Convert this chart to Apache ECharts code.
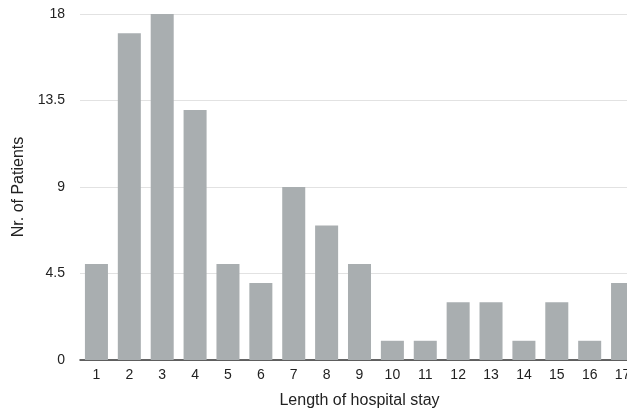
<!DOCTYPE html>
<html><head><meta charset="utf-8">
<script src="https://cdn.jsdelivr.net/npm/echarts@6/dist/echarts.min.js"></script>
<style>html,body{margin:0;padding:0;background:#fff}#c{width:627px;height:412px}</style>
</head><body><div id="c"></div>
<script>
const categories = ['1','2','3','4','5','6','7','8','9','10','11','12','13','14','15','16','17'];
const patients = [5,17,18,13,5,4,9,7,5,1,1,3,3,1,3,1,4];
const yTicks = [0,4.5,9,13.5,18];

const chart = echarts.init(document.getElementById('c'));
chart.setOption({
  animation:false,
  grid:{left:80,width:559,top:14,bottom:52,containLabel:false,outerBoundsMode:'none'},
  xAxis:{type:'category',data:categories,
    name:'Length of hospital stay',nameLocation:'middle',nameGap:33,
    nameTextStyle:{fontFamily:'Liberation Sans',fontSize:16,color:'#222'},
    axisLine:{lineStyle:{color:'#333',width:1.5}},axisTick:{show:false},
    axisLabel:{fontFamily:'Liberation Sans',fontSize:14,color:'#222',margin:8,interval:0}},
  yAxis:{type:'value',min:yTicks[0],max:yTicks[yTicks.length-1],interval:4.5,
    name:'Nr. of Patients',nameLocation:'middle',nameGap:52,
    nameTextStyle:{fontFamily:'Liberation Sans',fontSize:16,color:'#222'},
    axisLine:{show:false},axisTick:{show:false},
    axisLabel:{fontFamily:'Liberation Sans',fontSize:14,color:'#222',margin:15},
    splitLine:{lineStyle:{color:'#e2e2e2',width:1}}},
  series:[{type:'bar',data:patients,barWidth:'70%',
    itemStyle:{color:'#a9aeb0'}}]
});
</script></body></html>
